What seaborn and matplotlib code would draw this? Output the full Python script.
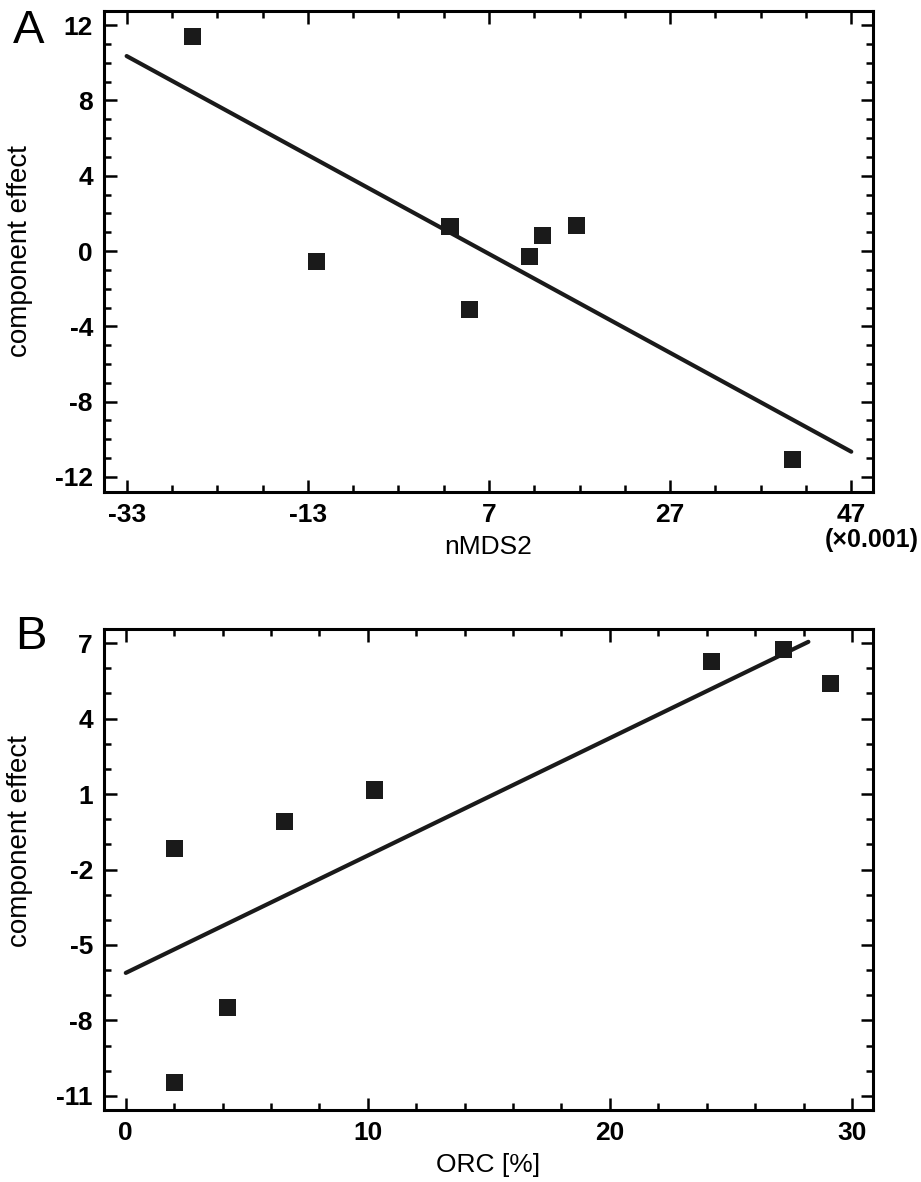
import numpy as np
import pandas as pd
import matplotlib
matplotlib.use("Agg")
import matplotlib.pyplot as plt
from matplotlib.ticker import FixedLocator
import seaborn as sns

# ---- data ----
a_x = [-25.7, -12.0, 2.7, 4.9, 11.5, 12.9, 16.7, 40.5]      # nMDS2 (x0.001)
a_y = [11.4, -0.53, 1.28, -3.08, -0.27, 0.85, 1.38, -11.06]
a_line_x = [-33, 47]
a_xticks = [-33, -13, 7, 27, 47]
a_yticks = [-12, -8, -4, 0, 4, 8, 12]

b_x = [2.0, 2.0, 4.22, 6.54, 10.27, 24.18, 27.16, 29.1]      # ORC [%]
b_y = [-1.18, -10.48, -7.5, -0.11, 1.16, 6.28, 6.76, 5.41]
b_line_x = [0, 28.2]
b_xticks = [0, 10, 20, 30]
b_yticks = [-11, -8, -5, -2, 1, 4, 7]

sns.set_style("ticks")
plt.rcParams['font.family'] = ['Liberation Sans', 'DejaVu Sans']
plt.rcParams['text.color'] = 'black'
plt.rcParams['axes.labelcolor'] = 'black'
plt.rcParams['xtick.color'] = 'black'
plt.rcParams['ytick.color'] = 'black'

fig = plt.figure(figsize=(9.21, 11.82), dpi=100)
axA = fig.add_axes([104/921, 1-492/1182, 769/921, 481/1182])
axB = fig.add_axes([104/921, 1-1110/1182, 769/921, 481/1182])

dark = '#1a1a1a'

def draw(ax, x, y, line_x, xlab, ylab):
    df = pd.DataFrame({'x': x, 'y': y})
    k, b = np.polyfit(df['x'], df['y'], 1)
    lx = np.array(line_x, dtype=float)
    sns.lineplot(x=lx, y=k*lx + b, ax=ax, color=dark, lw=3.0, zorder=2)
    sns.scatterplot(data=df, x='x', y='y', ax=ax, marker='s', s=150,
                    color=dark, edgecolor='none', zorder=3)
    ax.set_xlabel(xlab, fontsize=19, labelpad=6, color='black')
    ax.set_ylabel(ylab, fontsize=20, color='black')
    for s in ax.spines.values():
        s.set_visible(True)
        s.set_linewidth(2.2)
        s.set_color('black')
    ax.tick_params(which='both', direction='in', top=True, right=True,
                   width=1.8, color='black', labelcolor='black')
    ax.tick_params(which='major', length=9, labelsize=19, pad=8)
    ax.tick_params(which='minor', length=5)

# Panel A
draw(axA, a_x, a_y, a_line_x, 'nMDS2', 'component effect')
axA.set_xlim(-35.5, 49.4)
axA.set_ylim(-12.8, 12.75)
axA.xaxis.set_major_locator(FixedLocator(a_xticks))
axA.xaxis.set_minor_locator(FixedLocator(np.arange(-33, 48, 5)))
axA.yaxis.set_major_locator(FixedLocator(a_yticks))
axA.yaxis.set_minor_locator(FixedLocator(np.arange(-12, 13, 1)))
axA.set_xticklabels([str(t) for t in a_xticks], fontweight='bold')
axA.set_yticklabels([str(t) for t in a_yticks], fontweight='bold')
axA.yaxis.set_label_coords(-0.092, 0.50)
fig.text(1.0 - 2/921, 1-540/1182, '(×0.001)', ha='right', va='center',
         fontsize=18, fontweight='bold', color='black')

# Panel B
draw(axB, b_x, b_y, b_line_x, 'ORC [%]', 'component effect')
axB.set_xlim(-0.9, 30.87)
axB.set_ylim(-11.56, 7.56)
axB.xaxis.set_major_locator(FixedLocator(b_xticks))
axB.xaxis.set_minor_locator(FixedLocator(np.arange(0, 31, 2)))
axB.yaxis.set_major_locator(FixedLocator(b_yticks))
axB.yaxis.set_minor_locator(FixedLocator(np.arange(-11, 8, 1)))
axB.set_xticklabels([str(t) for t in b_xticks], fontweight='bold')
axB.set_yticklabels([str(t) for t in b_yticks], fontweight='bold')
axB.yaxis.set_label_coords(-0.092, 0.559)

fig.text(13/921, 1-31/1182, 'A', fontsize=34, ha='left', va='center', color='black')
fig.text(15/921, 1-637/1182, 'B', fontsize=34, ha='left', va='center', color='black')

fig.savefig('out.png', dpi=100)
